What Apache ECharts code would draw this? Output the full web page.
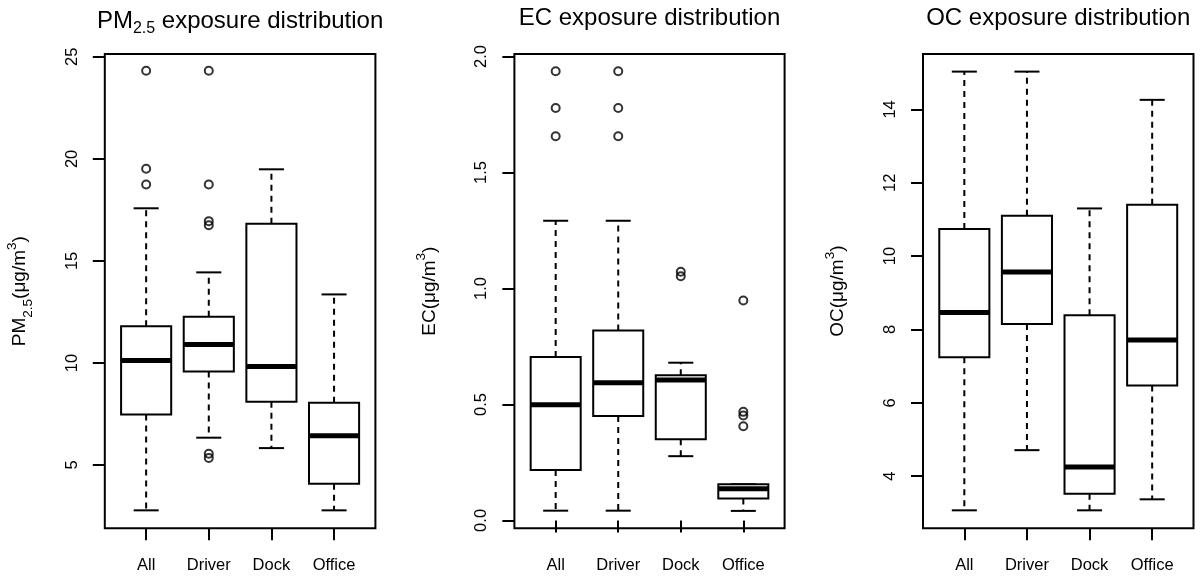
<!DOCTYPE html>
<html><head><meta charset="utf-8">
<script src="https://cdn.jsdelivr.net/npm/echarts@6/dist/echarts.min.js"></script>
<style>html,body{margin:0;padding:0;background:#fff}#c{width:1200px;height:577px}</style>
</head><body><div id="c"></div>
<script>
const categories = ['All', 'Driver', 'Dock', 'Office'];
// each box: [lower whisker, Q1, median, Q3, upper whisker]
const pmBoxes = [[2.78, 7.47, 10.12, 11.80, 17.58], [6.34, 9.58, 10.90, 12.26, 14.44], [5.83, 8.10, 9.83, 16.82, 19.49], [2.78, 4.08, 6.43, 8.05, 13.36]];
const pmOutliers = [[1, 24.32], [1, 19.52], [1, 18.75], [2, 24.32], [2, 18.75], [2, 16.95], [2, 16.75], [2, 5.55], [2, 5.35]];
const ecBoxes = [[0.042, 0.217, 0.499, 0.705, 1.292], [0.042, 0.45, 0.594, 0.819, 1.292], [0.277, 0.35, 0.605, 0.626, 0.68], [0.041, 0.095, 0.136, 0.156, 0.156]];
const ecOutliers = [[1, 1.937], [1, 1.778], [1, 1.656], [2, 1.937], [2, 1.778], [2, 1.656], [3, 1.072], [3, 1.053], [4, 0.948], [4, 0.468], [4, 0.452], [4, 0.406]];
const ocBoxes = [[3.07, 7.24, 8.46, 10.74, 15.03], [4.71, 8.15, 9.57, 11.10, 15.03], [3.07, 3.52, 4.25, 8.39, 11.30], [3.37, 6.47, 7.71, 11.40, 14.26]];
const ocOutliers = [];
const pmTicks = [5, 10, 15, 20, 25];
const ecTicks = [0, 0.5, 1, 1.5, 2];
const ocTicks = [4, 6, 8, 10, 12, 14];
const xTicks = [1, 2, 3, 4];

const FONT = '"Liberation Sans", Arial, Helvetica, sans-serif';
const panels = [
  { boxes: pmBoxes, outliers: pmOutliers, ticks: pmTicks, min: 1.9, max: 25.14, fmt: v => String(v),
    left: 104.8, width: 270.6,
    title: '{a|PM}{s|2.5}{a| exposure distribution}', name: '{a|PM}{s|2.5}{a|(μg/m}{p|3}{a|)}' },
  { boxes: ecBoxes, outliers: ecOutliers, ticks: ecTicks, min: -0.034, max: 2.011, fmt: v => v.toFixed(1),
    left: 514.4, width: 270.2,
    title: '{a|EC exposure distribution}', name: '{a|EC(μg/m}{p|3}{a|)}' },
  { boxes: ocBoxes, outliers: ocOutliers, ticks: ocTicks, min: 2.58, max: 15.51, fmt: v => String(v),
    left: 923, width: 270.5,
    title: '{a|OC exposure distribution}', name: '{a|OC(μg/m}{p|3}{a|)}' }
];
const GRID_TOP = 54, GRID_H = 474.3, NAME_OFFSET = 85;

function renderBox(params, api) {
  const x = api.value(0);
  const lo = api.value(1), q1 = api.value(2), med = api.value(3), q3 = api.value(4), hi = api.value(5);
  const half = api.size([0.4, 0])[0];
  const cap = api.size([0.2, 0])[0];
  const pLo = api.coord([x, lo]), pQ1 = api.coord([x, q1]), pMed = api.coord([x, med]);
  const pQ3 = api.coord([x, q3]), pHi = api.coord([x, hi]);
  const cx = pMed[0];
  const solid = { stroke: '#000', lineWidth: 2, fill: null };
  const dashed = { stroke: '#000', lineWidth: 2, lineDash: [6, 5], fill: null };
  return {
    type: 'group',
    children: [
      { type: 'line', shape: { x1: cx, y1: pQ3[1], x2: cx, y2: pHi[1] }, style: dashed },
      { type: 'line', shape: { x1: cx, y1: pQ1[1], x2: cx, y2: pLo[1] }, style: dashed },
      { type: 'line', shape: { x1: cx - cap, y1: pHi[1], x2: cx + cap, y2: pHi[1] }, style: solid },
      { type: 'line', shape: { x1: cx - cap, y1: pLo[1], x2: cx + cap, y2: pLo[1] }, style: solid },
      { type: 'rect', shape: { x: cx - half, y: pQ3[1], width: 2 * half, height: pQ1[1] - pQ3[1] },
        style: { stroke: '#000', lineWidth: 2, fill: '#fff' } },
      { type: 'line', shape: { x1: cx - half, y1: pMed[1], x2: cx + half, y2: pMed[1] },
        style: { stroke: '#000', lineWidth: 5, fill: null } }
    ]
  };
}

const nameRich = {
  a: { fontFamily: FONT, fontSize: 19, fill: '#000', lineHeight: 21, verticalAlign: 'middle' },
  s: { fontFamily: FONT, fontSize: 13.5, fill: '#000', lineHeight: 30, verticalAlign: 'bottom' },
  p: { fontFamily: FONT, fontSize: 13.5, fill: '#000', lineHeight: 30, verticalAlign: 'top' }
};

const option = { animation: false, backgroundColor: '#fff', title: [], grid: [], xAxis: [], yAxis: [], series: [], graphic: [] };

panels.forEach((p, i) => {
  option.title.push({
    text: p.title, left: p.left + p.width / 2, top: 5, textAlign: 'center', padding: 0,
    textStyle: { fontFamily: FONT, fontSize: 24, fontWeight: 'normal', color: '#000', rich: {
      a: { fontFamily: FONT, fontSize: 24, fontWeight: 'normal', color: '#000', lineHeight: 26, verticalAlign: 'middle' },
      s: { fontFamily: FONT, fontSize: 16, fontWeight: 'normal', color: '#000', lineHeight: 32, verticalAlign: 'bottom' }
    } }
  });
  option.graphic.push({
    type: 'text', x: p.left - NAME_OFFSET, y: GRID_TOP + GRID_H / 2, rotation: Math.PI / 2, silent: true,
    style: { text: p.name, rich: nameRich, fontFamily: FONT, fontSize: 19, fill: '#000',
      align: 'center', verticalAlign: 'middle', textAlign: 'center', textVerticalAlign: 'middle' }
  });
  option.grid.push({
    left: p.left, width: p.width, top: GRID_TOP, height: GRID_H,
    show: true, borderColor: '#000', borderWidth: 2, backgroundColor: 'transparent'
  });
  option.xAxis.push({
    type: 'value', gridIndex: i, min: 0.34, max: 4.66,
    splitLine: { show: false }, axisLine: { show: false },
    axisTick: { show: true, customValues: xTicks, length: 12, lineStyle: { color: '#000', width: 2 } },
    axisLabel: { show: true, customValues: xTicks, margin: 29, color: '#000', fontFamily: FONT, fontSize: 16.5,
      formatter: v => categories[Math.round(v) - 1] }
  });
  option.yAxis.push({
    type: 'value', gridIndex: i, min: p.min, max: p.max,
    splitLine: { show: false }, axisLine: { show: false },
    axisTick: { show: true, customValues: p.ticks, length: 12, lineStyle: { color: '#000', width: 2 } },
    axisLabel: { show: true, customValues: p.ticks, rotate: 90, margin: 24, color: '#000', fontFamily: FONT, fontSize: 16.5,
      formatter: p.fmt }
  });
  option.series.push({
    type: 'custom', xAxisIndex: i, yAxisIndex: i,
    dimensions: ['x', 'lo', 'q1', 'med', 'q3', 'hi'],
    encode: { x: 0, y: [1, 2, 3, 4, 5] },
    renderItem: renderBox,
    data: p.boxes.map((b, k) => [xTicks[k]].concat(b)),
    z: 2
  });
  option.series.push({
    type: 'scatter', xAxisIndex: i, yAxisIndex: i,
    symbol: 'circle', symbolSize: 8,
    itemStyle: { color: 'rgba(0,0,0,0)', borderColor: '#000', borderWidth: 2 },
    data: p.outliers, z: 3
  });
});

const chart = echarts.init(document.getElementById('c'), null, { renderer: 'canvas' });
chart.setOption(option);
</script>
</body></html>
